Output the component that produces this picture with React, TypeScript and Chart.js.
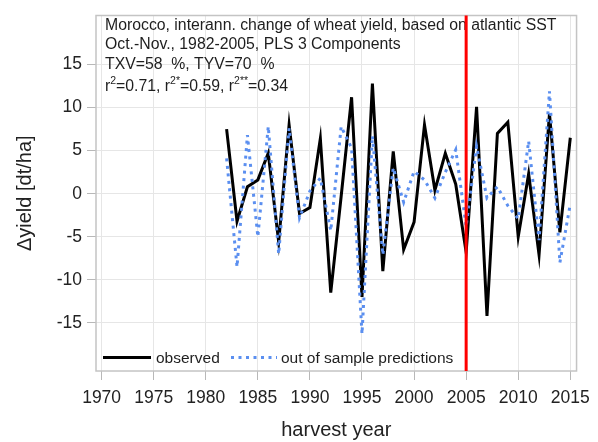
import React, { useEffect, useRef } from 'react';
import { Chart, registerables } from 'chart.js';

Chart.register(...registerables);

const years = [1982, 1983, 1984, 1985, 1986, 1987, 1988, 1989, 1990, 1991, 1992, 1993, 1994, 1995, 1996, 1997, 1998, 1999, 2000, 2001, 2002, 2003, 2004, 2005, 2006, 2007, 2008, 2009, 2010, 2011, 2012, 2013, 2014, 2015];
const observed = [7.5, -3.2, 0.8, 1.6, 4.7, -5.6, 8.0, -2.3, -1.6, 6.4, -11.5, -0.3, 11.2, -12.0, 12.8, -9.0, 4.9, -6.5, -3.3, 8.0, 0.4, 4.7, 1.1, -6.8, 10.1, -14.2, 7.0, 8.3, -5.0, 2.3, -7.1, 9.3, -4.5, 6.5];
const predicted = [4.1, -8.5, 6.8, -5.0, 7.8, -7.0, 7.6, -2.8, 0.3, 1.8, -4.3, 7.8, 5.3, -16.3, 6.7, -7.1, 3.0, -1.0, 2.6, 1.6, -0.5, 2.5, 5.1, -3.8, 5.5, -0.5, 0.8, -1.4, -2.9, 6.1, -5.4, 11.9, -8.0, -1.2];
const xTickValues = [1970, 1975, 1980, 1985, 1990, 1995, 2000, 2005, 2010, 2015];
const yTickValues = [-15, -10, -5, 0, 5, 10, 15];
const splitYear = 2005;
const seriesLabels = ['observed', 'out of sample predictions'];
const titleLines = [
  'Morocco, interann. change of wheat yield, based on atlantic SST',
  'Oct.-Nov., 1982-2005, PLS 3 Components',
  'TXV=58  %, TYV=70  %',
];
// r-squared line as [normal, superscript] runs
const r2Runs: [string, boolean][] = [
  ['r', false], ['2', true], ['=0.71, r', false], ['2*', true], ['=0.59, r', false], ['2**', true], ['=0.34', false],
];
const xAxisTitle = 'harvest year';
const yAxisTitle = '\u0394yield [dt/ha]';

const FAMILY = '"Liberation Sans", Arial, Helvetica, sans-serif';
const BLACK = '#000000';
const BLUE = '#5b8ff0';

const overlayPlugin = {
  id: 'overlay',
  beforeDatasetsDraw(chart: any) {
    const { ctx, chartArea } = chart;
    ctx.save();
    ctx.strokeStyle = '#c4c4c4';
    ctx.lineWidth = 1.5;
    ctx.strokeRect(chartArea.left, chartArea.top, chartArea.right - chartArea.left, chartArea.bottom - chartArea.top);
    ctx.fillStyle = '#1e1e1e';
    ctx.textBaseline = 'alphabetic';
    ctx.textAlign = 'left';
    ctx.font = `15.8px ${FAMILY}`;
    const x0 = chartArea.left + 9;
    const baselines = [30, 49.3, 68.6];
    titleLines.forEach((t, i) => ctx.fillText(t, x0, baselines[i]));
    let x = x0;
    const base4 = 90.5;
    r2Runs.forEach(([t, sup]) => {
      if (sup) {
        ctx.font = `10.5px ${FAMILY}`;
        ctx.fillText(t, x, base4 - 6.5);
      } else {
        ctx.font = `15.8px ${FAMILY}`;
        ctx.fillText(t, x, base4);
      }
      x += ctx.measureText(t).width;
    });
    ctx.restore();
  },
  afterDatasetsDraw(chart: any) {
    const { ctx, chartArea, scales } = chart;
    ctx.save();
    const px = scales.x.getPixelForValue(splitYear);
    ctx.strokeStyle = '#ff0000';
    ctx.lineWidth = 3;
    ctx.beginPath();
    ctx.moveTo(px, chartArea.top);
    ctx.lineTo(px, chartArea.bottom);
    ctx.stroke();
    const ly = chartArea.bottom - 13.5;
    ctx.lineWidth = 3;
    ctx.strokeStyle = BLACK;
    ctx.beginPath();
    ctx.moveTo(chartArea.left + 7, ly);
    ctx.lineTo(chartArea.left + 55, ly);
    ctx.stroke();
    ctx.font = `15.5px ${FAMILY}`;
    ctx.fillStyle = '#1e1e1e';
    ctx.textBaseline = 'middle';
    ctx.textAlign = 'left';
    ctx.fillText(seriesLabels[0], chartArea.left + 60, ly + 1);
    ctx.strokeStyle = BLUE;
    ctx.lineWidth = 3;
    ctx.setLineDash([3, 4.5]);
    ctx.beginPath();
    ctx.moveTo(chartArea.left + 135, ly);
    ctx.lineTo(chartArea.left + 181, ly);
    ctx.stroke();
    ctx.setLineDash([]);
    ctx.fillText(seriesLabels[1], chartArea.left + 185, ly + 1);
    ctx.restore();
  },
};

export default function App() {
  const canvasRef = useRef<HTMLCanvasElement | null>(null);

  useEffect(() => {
    const canvas = canvasRef.current;
    if (!canvas) return;
    const obsPoints = years.map((yr, i) => ({ x: yr, y: observed[i] }));
    const predPoints = years.map((yr, i) => ({ x: yr, y: predicted[i] }));
    const chart = new Chart(canvas, {
      type: 'line',
      data: {
        datasets: [
          {
            label: seriesLabels[0],
            data: obsPoints,
            borderColor: BLACK,
            borderWidth: 3,
            pointRadius: 0,
            tension: 0,
            order: 2,
            fill: false,
          },
          {
            label: seriesLabels[1],
            data: predPoints,
            borderColor: BLUE,
            borderWidth: 3,
            borderDash: [3, 4.5],
            pointRadius: 0,
            tension: 0,
            order: 1,
            fill: false,
          },
        ],
      },
      options: {
        animation: false,
        responsive: false,
        devicePixelRatio: 1,
        layout: { padding: { top: 10, right: 18, left: 0, bottom: 0 } },
        plugins: {
          legend: { display: false },
          tooltip: { enabled: false },
          title: { display: false },
        },
        scales: {
          x: {
            type: 'linear',
            position: 'bottom',
            min: 1969.46,
            max: 2015.6,
            afterFit: (s: any) => { s.height = 71; },
            afterBuildTicks: (s: any) => { s.ticks = xTickValues.map((v) => ({ value: v })); },
            ticks: {
              font: { family: FAMILY, size: 17.5 },
              color: '#222222',
              padding: 8,
              maxRotation: 0,
              autoSkip: false,
              callback: (v: any) => String(v),
            },
            grid: { color: '#e6e6e6', lineWidth: 1, tickLength: 9, tickColor: '#b8b8b8', drawTicks: true },
            border: { display: false },
            title: {
              display: true,
              text: xAxisTitle,
              font: { family: FAMILY, size: 20 },
              color: '#222222',
              padding: { top: 0, bottom: 0 },
            },
          },
          y: {
            type: 'linear',
            min: -20.6,
            max: 20.7,
            afterFit: (s: any) => { s.width = 96; },
            afterBuildTicks: (s: any) => { s.ticks = yTickValues.map((v) => ({ value: v })); },
            ticks: {
              font: { family: FAMILY, size: 17.5 },
              color: '#222222',
              padding: 5,
              callback: (v: any) => String(v),
            },
            grid: { color: '#e6e6e6', lineWidth: 1, tickLength: 9, tickColor: '#b8b8b8', drawTicks: true },
            border: { display: false },
            title: {
              display: true,
              text: yAxisTitle,
              font: { family: FAMILY, size: 20 },
              color: '#222222',
              padding: { top: 13, bottom: 0 },
            },
          },
        },
      },
      plugins: [overlayPlugin],
    });
    return () => chart.destroy();
  }, []);

  return (
    <div style={{ position: 'absolute', left: 0, top: 0, width: 598, height: 442, background: '#ffffff' }}>
      <canvas ref={canvasRef} width={598} height={442} style={{ display: 'block', width: 598, height: 442 }} />
    </div>
  );
}
